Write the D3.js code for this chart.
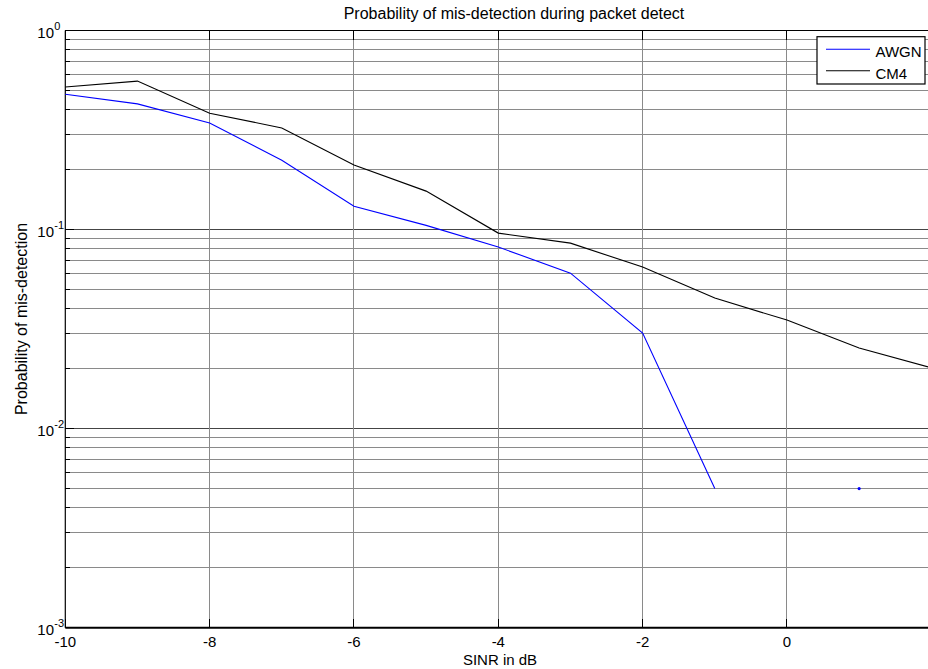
<!DOCTYPE html>
<html><head><meta charset="utf-8">
<script src="https://cdn.jsdelivr.net/npm/d3@7"></script>
<style>body{margin:0;background:#fff;overflow:hidden} text{font-family:"Liberation Sans",Arial,sans-serif;fill:#000}</style>
</head><body><svg id="c" width="928" height="669"></svg>
<script>
const snr = [-10,-9,-8,-7,-6,-5,-4,-3,-2,-1,0,1,2];
const awgn = [0.478,0.428,0.343,0.223,0.131,0.105,0.0817,0.0604,0.0302,0.005,null,0.005,null];
const cm4 = [0.52,0.557,0.384,0.324,0.211,0.156,0.096,0.0855,0.0648,0.0453,0.0351,0.0254,0.0202];
const xTicks = [-10,-8,-6,-4,-2,0];
const yExponents = [0,-1,-2,-3];
const seriesNames = ["AWGN","CM4"];
const seriesColors = ["#0000ff","#000000"];
const titleText = "Probability of mis-detection during packet detect";
const xLabelText = "SINR in dB";
const yLabelText = "Probability of mis-detection";

const svg = d3.select("#c");
const L = 65.3, R = 931.3, T = 30.5, B = 627.7;
const x = d3.scaleLinear().domain([-10, 2]).range([L, R]);
const y = d3.scaleLog().domain([1e-3, 1]).range([B, T]);

svg.append("rect").attr("width",928).attr("height",669).attr("fill","#fff");

const minor = [];
for (let k = -3; k < 0; k++) for (let m = 2; m <= 9; m++) minor.push(m * Math.pow(10, k));
const major = yExponents.map(e => Math.pow(10, e));

const g = svg.append("g");
g.selectAll(".mg").data(minor).join("line")
  .attr("x1", L).attr("x2", R).attr("y1", d => y(d)).attr("y2", d => y(d))
  .attr("stroke", "#8a8a8a").attr("stroke-width", 1).attr("shape-rendering","crispEdges");
g.selectAll(".Mg").data(major.slice(1, 3)).join("line")
  .attr("x1", L).attr("x2", R).attr("y1", d => y(d)).attr("y2", d => y(d))
  .attr("stroke", "#444").attr("stroke-width", 1).attr("shape-rendering","crispEdges");
g.selectAll(".vg").data(xTicks.slice(1)).join("line")
  .attr("x1", d => x(d)).attr("x2", d => x(d)).attr("y1", T).attr("y2", B)
  .attr("stroke", "#8a8a8a").attr("stroke-width", 1).attr("shape-rendering","crispEdges");

const tk = svg.append("g").attr("stroke","#000").attr("stroke-width",1).attr("shape-rendering","crispEdges");
tk.selectAll(".xb").data(xTicks).join("line")
  .attr("x1", d => x(d)).attr("x2", d => x(d)).attr("y1", B).attr("y2", B - 9);
tk.selectAll(".xt").data(xTicks).join("line")
  .attr("x1", d => x(d)).attr("x2", d => x(d)).attr("y1", T).attr("y2", T + 9);
tk.selectAll(".ym").data(minor).join("line")
  .attr("x1", L).attr("x2", L + 5).attr("y1", d => y(d)).attr("y2", d => y(d));
tk.selectAll(".yM").data(major).join("line")
  .attr("x1", L).attr("x2", L + 9).attr("y1", d => y(d)).attr("y2", d => y(d));

svg.append("line").attr("x1",L).attr("x2",R).attr("y1",T).attr("y2",T).attr("stroke","#000").attr("stroke-width",1.2);
svg.append("line").attr("x1",L).attr("x2",R).attr("y1",B).attr("y2",B).attr("stroke","#000").attr("stroke-width",2);
svg.append("line").attr("x1",L).attr("x2",L).attr("y1",T).attr("y2",B).attr("stroke","#000").attr("stroke-width",1.2);

const series = [awgn, cm4];
const line = d3.line().defined(d => d[1] != null && d[1] > 0).x(d => x(d[0])).y(d => y(d[1]));
series.forEach((vals, si) => {
  const pts = snr.map((s, i) => [s, vals[i]]);
  svg.append("path").datum(pts).attr("d", line).attr("fill","none")
    .attr("stroke", seriesColors[si]).attr("stroke-width", 1.1);
  const iso = pts.filter((p, i) => p[1] != null &&
     (i === 0 || pts[i-1][1] == null) && (i === pts.length - 1 || pts[i+1][1] == null));
  svg.selectAll(null).data(iso).join("circle")
    .attr("cx", d => x(d[0])).attr("cy", d => y(d[1])).attr("r", 1.6)
    .attr("fill", seriesColors[si]);
});

svg.selectAll(".xl").data(xTicks).join("text")
  .attr("x", d => x(d)).attr("y", 647).attr("text-anchor","middle")
  .attr("font-size", 15).text(d => d);

yExponents.forEach(e => {
  const yy = y(Math.pow(10, e));
  svg.append("text").attr("x", 54).attr("y", yy + 7.5).attr("text-anchor","end")
    .attr("font-size", 15).text("10");
  svg.append("text").attr("x", 54.3).attr("y", yy - 1).attr("text-anchor","start")
    .attr("font-size", 11).text(e);
});

svg.append("text").attr("x", 514).attr("y", 19).attr("text-anchor","middle")
  .attr("font-size", 16).text(titleText);
svg.append("text").attr("x", 500).attr("y", 665).attr("text-anchor","middle")
  .attr("font-size", 15).text(xLabelText);
svg.append("text").attr("transform","translate(27,319) rotate(-90)").attr("text-anchor","middle")
  .attr("font-size", 16).text(yLabelText);

const lg = svg.append("g");
lg.append("rect").attr("x", 817).attr("y", 36.7).attr("width", 108).attr("height", 47.3)
  .attr("fill","#fff").attr("stroke","#000").attr("stroke-width",1.2);
seriesNames.forEach((n, i) => {
  const ly = 49.3 + i * 21.4;
  lg.append("line").attr("x1", 826).attr("x2", 870).attr("y1", ly).attr("y2", ly)
    .attr("stroke", seriesColors[i]).attr("stroke-width", 1.1);
  lg.append("text").attr("x", 875.5).attr("y", ly + 8).attr("font-size", 15).text(n);
});
</script></body></html>
